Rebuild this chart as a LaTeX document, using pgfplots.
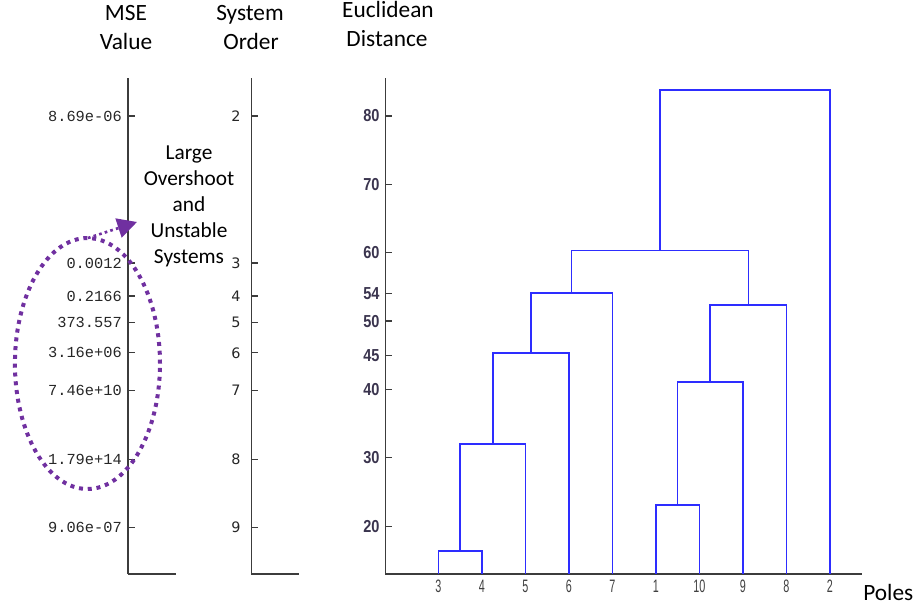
\documentclass[border=0pt]{standalone}
\usepackage{fontspec}
\usepackage{pgfplots}
\pgfplotsset{compat=1.18}
\usetikzlibrary{arrows.meta}
\setmainfont{Carlito}
\newfontfamily\monofont{Liberation Mono}
\newfontfamily\orderfont{DejaVu Sans}
\newfontfamily\distfont[FakeStretch=0.84]{Liberation Sans}
\newfontfamily\polefont[FakeStretch=0.6]{Liberation Sans}

\definecolor{axisgray}{RGB}{60,60,60}
\definecolor{dendblue}{RGB}{45,45,255}
\definecolor{distlabel}{RGB}{58,52,78}
\definecolor{annot}{RGB}{112,48,160}

\pgfplotsset{
  stackaxis/.style={
    scale only axis,
    height=372pt,
    ymin=13, ymax=85.56,
    axis x line*=bottom, axis y line*=left,
    axis line style={-, axisgray, line width=1.1pt},
    tick align=inside,
    major tick length=5.25pt,
    tick style={axisgray, line width=0.9pt},
    xtick=\empty,
    clip=false,
  },
  dend/.style={dendblue, line width=1.15pt, mark=none},
}

\begin{document}
\begin{tikzpicture}
\path[use as bounding box] (0,0) rectangle (690pt,455.25pt);

% MSE value of each reduced model
\begin{axis}[stackaxis,
  at={(96pt,24.75pt)}, anchor=south west,
  width=36pt, xmin=0, xmax=1,
  ytick={80,58.49,53.66,49.75,45.36,39.9,29.8,19.8},
  yticklabels={8.69e-06,0.0012,0.2166,373.557,3.16e+06,7.46e+10,1.79e+14,9.06e-07},
  yticklabel style={font=\monofont\fontsize{11.5pt}{12pt}\selectfont, text=black!85,
    anchor=east, inner sep=0pt, xshift=-4.5pt},
]
\end{axis}

% system order
\begin{axis}[stackaxis,
  at={(188.6pt,24.75pt)}, anchor=south west,
  width=36pt, xmin=0, xmax=1,
  ytick={80,58.49,53.66,49.75,45.36,39.9,29.8,19.8},
  yticklabels={2,3,4,5,6,7,8,9},
  yticklabel style={font=\orderfont\fontsize{10.8pt}{12pt}\selectfont, text=black!85,
    anchor=east, inner sep=0pt, xshift=-8pt},
]
\end{axis}

% dendrogram of the poles
\begin{axis}[stackaxis,
  at={(289.1pt,24.75pt)}, anchor=south west,
  width=357.4pt, xmin=-0.217, xmax=10.74,
  xtick={1,2,3,4,5,6,7,8,9,10},
  xticklabels={3,4,5,6,7,1,10,9,8,2},
  xtick style={draw=none},
  xticklabel style={font=\polefont\fontsize{13.5pt}{14pt}\selectfont, text=black!75,
    anchor=north, inner sep=0pt, yshift=-4.5pt},
  ytick={20,30,40,45,50,54,60,70,80},
  yticklabels={20,30,40,45,50,54,60,70,80},
  yticklabel style={font=\distfont\bfseries\fontsize{13pt}{14pt}\selectfont, text=distlabel,
    anchor=east, inner sep=0pt, xshift=-4.3pt},
]
\addplot[dend] coordinates {(1,13) (1,16.34) (2,16.34) (2,13)};
\addplot[dend] coordinates {(1.5,16.34) (1.5,32.0) (3,32.0) (3,13)};
\addplot[dend] coordinates {(2.25,32.0) (2.25,45.3) (4,45.3) (4,13)};
\addplot[dend] coordinates {(3.125,45.3) (3.125,54.1) (5,54.1) (5,13)};
\addplot[dend] coordinates {(6,13) (6,23.07) (7,23.07) (7,13)};
\addplot[dend] coordinates {(6.5,23.07) (6.5,41.07) (8,41.07) (8,13)};
\addplot[dend] coordinates {(7.25,41.07) (7.25,52.34) (9,52.34) (9,13)};
\addplot[dend] coordinates {(4.0625,54.1) (4.0625,60.3) (8.125,60.3) (8.125,52.34)};
\addplot[dend] coordinates {(6.09375,60.3) (6.09375,83.8) (10,83.8) (10,13)};
\end{axis}

% column titles
\begin{scope}[every node/.style={font=\fontsize{17.5pt}{20pt}\selectfont, inner sep=0pt}]
\node[anchor=base] at (94.5pt,439.5pt) {MSE};
\node[anchor=base] at (94.5pt,417.75pt) {Value};
\node[anchor=base] at (187.5pt,439.5pt) {System};
\node[anchor=base] at (188.25pt,417.75pt) {Order};
\node[anchor=base] at (291pt,441.75pt) {Euclidean};
\node[anchor=base] at (290.25pt,420pt) {Distance};
\node[anchor=base west] at (647.25pt,5.25pt) {Poles};
\end{scope}

% annotation
\begin{scope}[every node/.style={font=\fontsize{16pt}{19pt}\selectfont, inner sep=0pt, anchor=base}]
\node at (141.75pt,335.25pt) {Large};
\node at (141.75pt,316.1pt) {Overshoot};
\node at (141.75pt,296.6pt) {and};
\node at (141.75pt,277.1pt) {Unstable};
\node at (141.75pt,257.25pt) {Systems};
\end{scope}

\draw[annot, line width=3pt, dash pattern=on 3pt off 3.6pt]
  (65.6pt,182.6pt) ellipse [x radius=54.4pt, y radius=94.1pt];
\draw[annot, line width=2pt, dash pattern=on 2pt off 2.4pt,
  -{Triangle[length=14.6pt, width=14.8pt]}]
  (66pt,276.75pt) -- (102.75pt,288.75pt);
\end{tikzpicture}
\end{document}
